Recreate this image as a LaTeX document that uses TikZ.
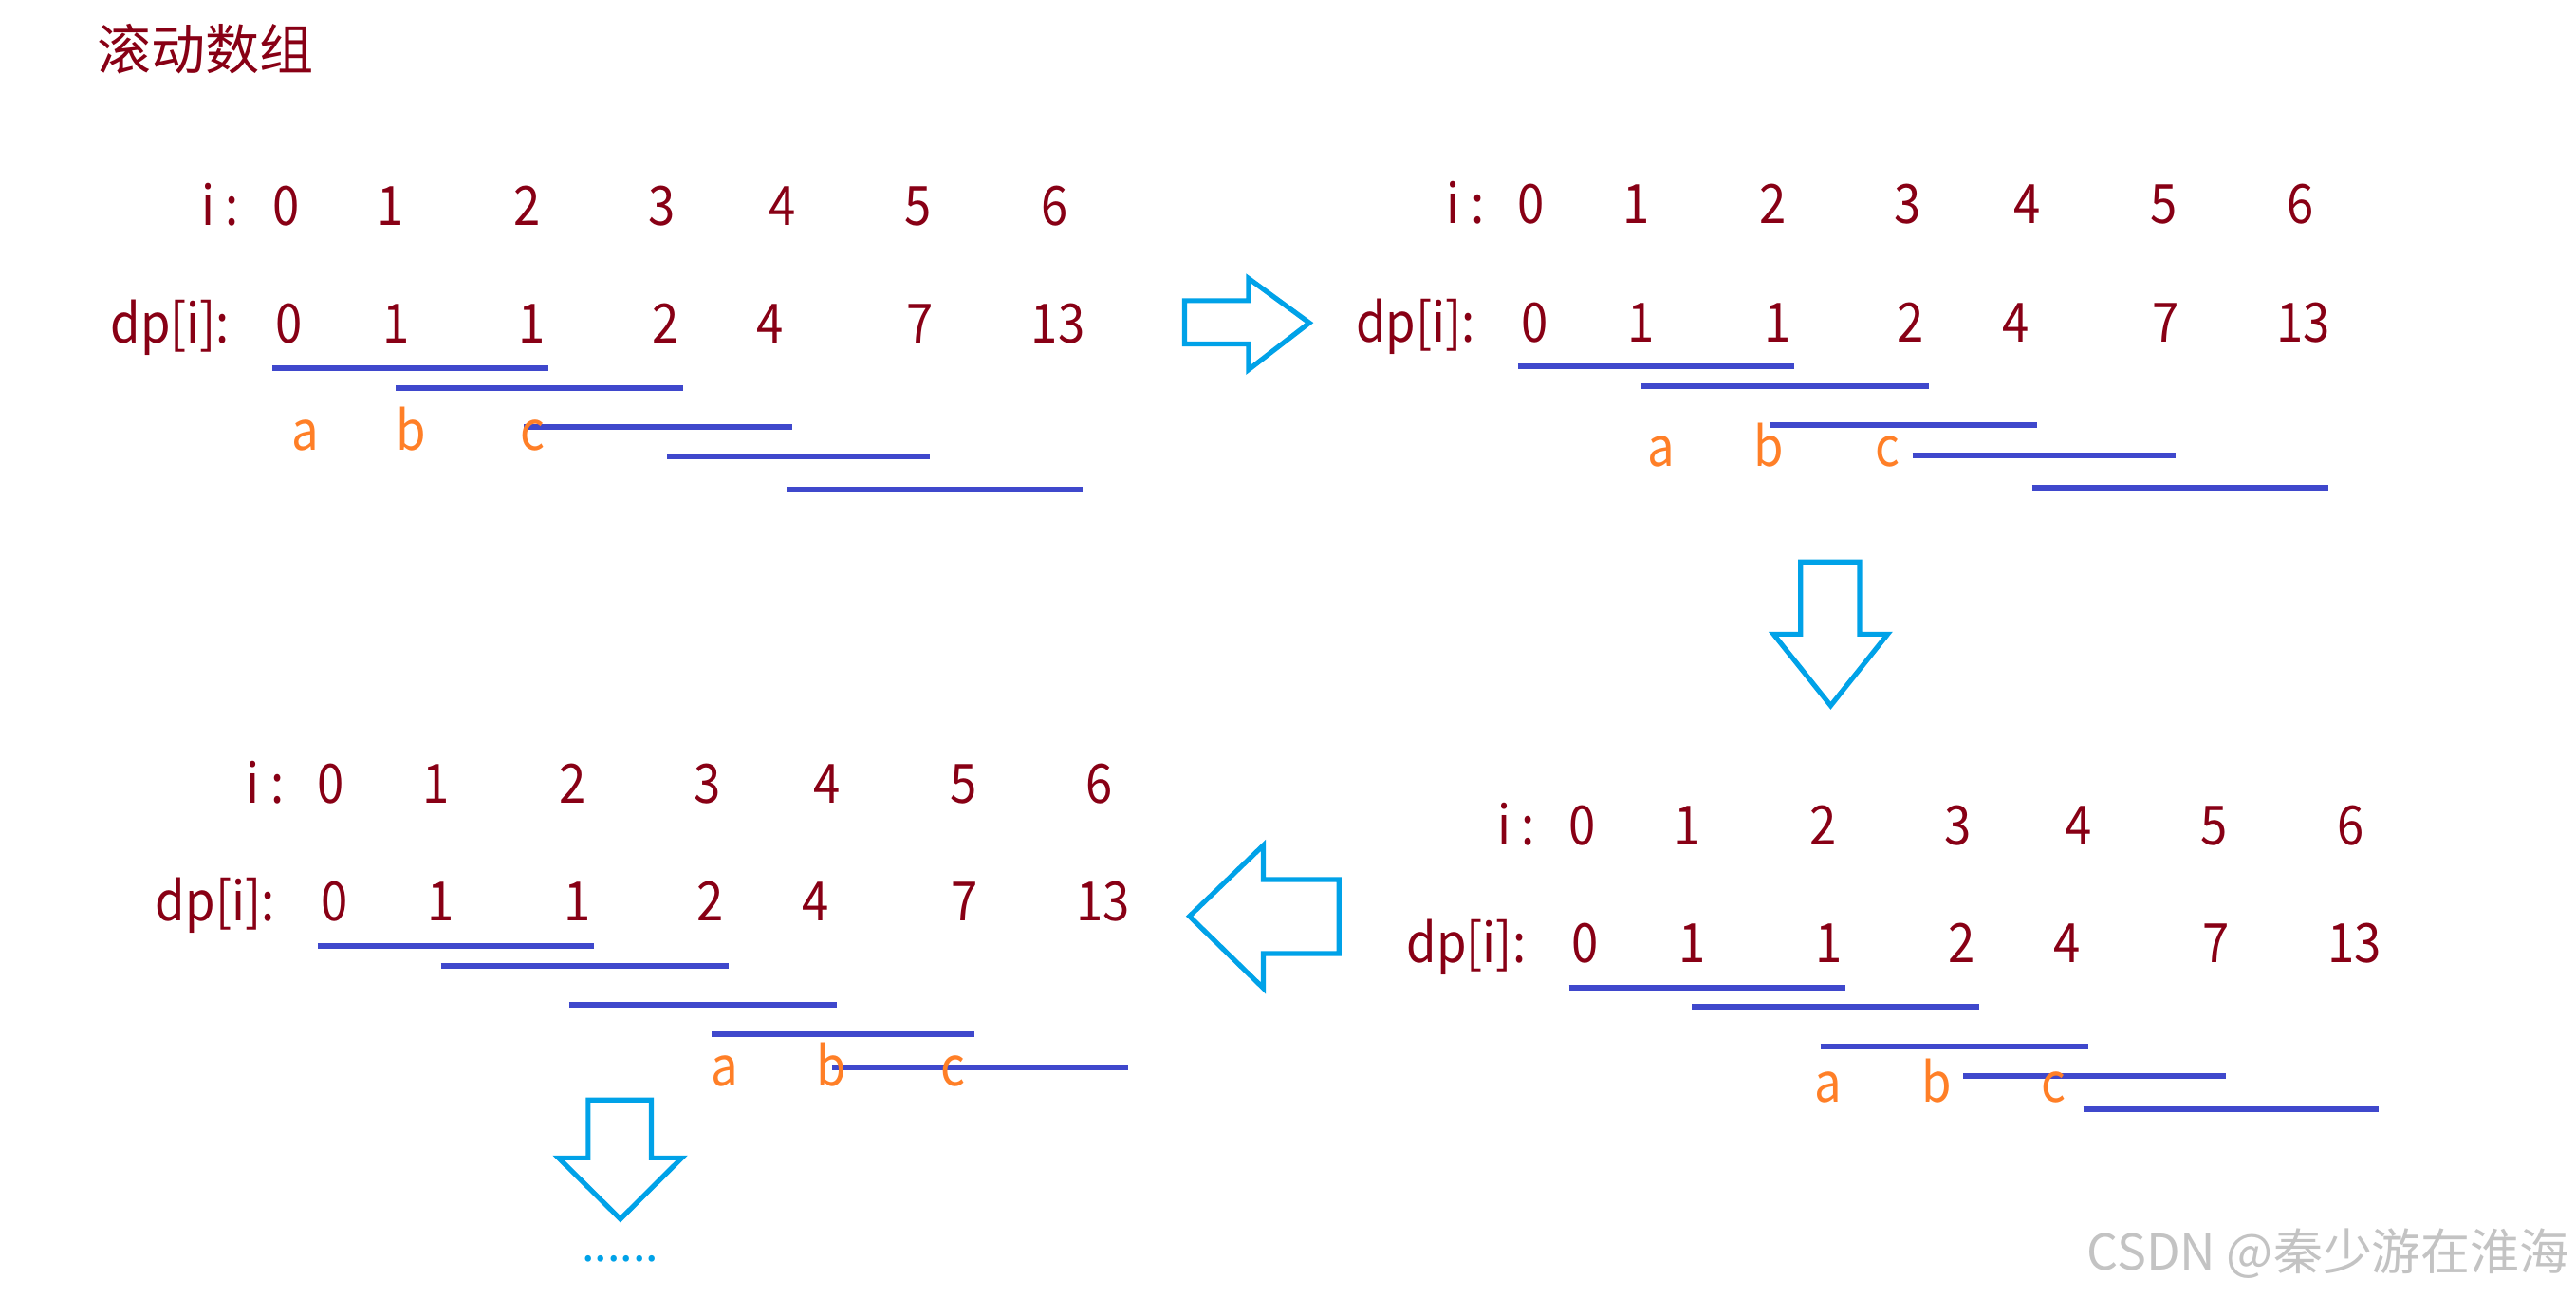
\documentclass[tikz,border=0pt]{standalone}
\usepackage{fontspec}
\setmainfont{Noto Sans CJK SC}
\newfontfamily\narrowf[FakeStretch=0.89]{Noto Sans CJK SC}
\definecolor{dred}{HTML}{880015}
\definecolor{barblue}{HTML}{3F48CC}
\definecolor{lorange}{HTML}{FF7F27}
\definecolor{acyan}{HTML}{00A2E8}
\definecolor{wmgray}{RGB}{195,195,195}
\tikzset{
  txt/.style={text=dred, font=\narrowf\fontsize{33}{40}\selectfont, inner sep=0pt},
  lab/.style={text=lorange, font=\narrowf\fontsize{33}{40}\selectfont, inner sep=0pt},
  bar/.style={draw=barblue, line width=3.5pt, line cap=butt},
  blockarrow/.style={draw=acyan, line width=3pt, line join=miter, fill=white},
}
\newcommand\dppanel[7]{%
  \begin{scope}[shift={(#2,#3)}]
    \node[txt, anchor=base] (#1ilab) at (134,137) {i :};
    \node[txt, anchor=base east] (#1dlab) at (140,209) {dp[i]:};
    \foreach \x [count=\k from 0] in {174,238,321,403,476,559,642}
      \node[txt, anchor=base] (#1i\k) at (\x,137) {\k};
    \foreach \x/\v [count=\k from 0] in {176/0,241/1,324/1,405/2,469/4,560/7,644/13}
      \node[txt, anchor=base] (#1d\k) at (\x,209) {\v};
    \draw[bar] (166,224) -- (334,224);
    \draw[bar] (241,236) -- (416,236);
    \draw[bar] (319,260) -- (482,260);
    \draw[bar] (406,278) -- (566,278);
    \draw[bar] (479,298) -- (659,298);
    \node[lab, anchor=base] (#1a) at (#4,#7) {a};
    \node[lab, anchor=base] (#1b) at (#5,#7) {b};
    \node[lab, anchor=base] (#1c) at (#6,#7) {c};
  \end{scope}}
\begin{document}
\begin{tikzpicture}[x=1pt,y=-1pt]
\useasboundingbox[fill=white] (0,0) rectangle (1568,789.5);
\node[text=dred, inner sep=0pt, font=\fontsize{33}{40}\selectfont] (title) at (125,30) {滚动数组};
\dppanel{p1}{0}{0}{186}{250}{324}{274}
\dppanel{p2}{758}{-1}{253}{318.6}{391}{285}
\dppanel{p3}{27.4}{351.7}{413.7}{478.4}{552.6}{309}
\dppanel{p4}{789}{377}{323.7}{390}{461}{294}
% block arrows
\draw[blockarrow] (721,183) -- (760,183) -- (760,169.5) -- (797,196.5) -- (760,225) -- (760,209.3) -- (721,209.3) -- cycle;
\draw[blockarrow] (1096,342) -- (1132,342) -- (1132,386) -- (1149,386) -- (1114.3,429.5) -- (1079.5,386) -- (1096,386) -- cycle;
\draw[blockarrow] (815,535.4) -- (769,535.4) -- (769,514.5) -- (724,557.7) -- (769,601.5) -- (769,580.4) -- (815,580.4) -- cycle;
\draw[blockarrow] (358,669.5) -- (396.5,669.5) -- (396.5,704.8) -- (415,704.8) -- (377.6,742) -- (340,704.8) -- (358,704.8) -- cycle;
\node[text=acyan, font=\fontsize{28}{30}\selectfont, inner sep=0pt, anchor=base] (more) at (377.5,768) {......};
\node[text=wmgray, font=\fontsize{30}{34}\selectfont, inner sep=0pt, anchor=east] (wm) at (1564,763) {CSDN @秦少游在淮海};
\end{tikzpicture}
\end{document}
